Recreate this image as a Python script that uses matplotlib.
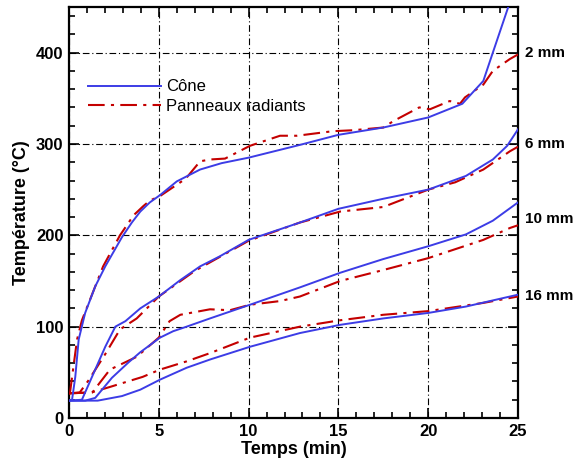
import numpy as np
import matplotlib.pyplot as plt
from matplotlib.ticker import MultipleLocator
from matplotlib.transforms import blended_transform_factory

plt.rcParams['font.family'] = ['Liberation Sans', 'DejaVu Sans']

# Cone curves (blue), time in min, temperature in degC
cone_2mm_t = [0.0, 0.17, 0.35, 0.54, 0.9, 1.46, 2.02, 2.95, 3.5, 3.97, 4.5, 5.07, 6.0, 7.3, 8.5,
              10.0, 12.86, 15.0, 17.5, 20.0, 21.9, 23.07, 23.6, 24.46]
cone_2mm_T = [19, 20, 45, 86, 115, 144, 166, 198, 214, 226, 236, 244, 259, 272, 279,
              285, 299, 310, 318, 329, 344, 369, 400, 450]
cone_6mm_t = [0.0, 0.72, 1.46, 2.02, 2.58, 3.14, 3.97, 5.0, 6.2, 7.3, 8.4, 10.0, 12.86, 15.0,
              17.5, 20.0, 22.1, 23.6, 24.4, 25.0]
cone_6mm_T = [19, 20, 53, 78, 100, 106, 120, 133, 151, 166, 177, 195, 214, 229,
              240, 250, 265, 283, 298, 316]
cone_10mm_t = [0.0, 0.9, 1.46, 2.39, 3.32, 3.97, 5.07, 5.8, 6.55, 7.85, 10.08, 12.86, 15.1,
               17.5, 20.0, 22.1, 23.6, 25.0]
cone_10mm_T = [19, 19, 22, 44, 61, 72, 88, 95, 100, 109, 124, 143, 159,
               174, 188, 201, 216, 236]
cone_16mm_t = [0.0, 1.6, 2.95, 3.97, 5.07, 6.55, 7.85, 10.08, 12.86, 15.1, 17.5, 20.0,
               22.1, 25.0]
cone_16mm_T = [19, 19, 24, 31, 42, 55, 64, 78, 93, 102, 109, 115,
               122, 135]

# Radiant panel curves (red)
pan_2mm_t = [0.0, 0.05, 0.45, 0.72, 1.9, 2.84, 3.6, 4.14, 4.5, 5.07, 6.5, 7.3, 7.85, 8.69,
             10.08, 11.75, 12.7, 14.7, 15.8, 17.5, 18.06, 19.5, 20.1, 21.2, 21.77, 22.05,
             23.07, 23.6, 24.55, 25.0]
pan_2mm_T = [27, 27, 86, 107, 166, 200, 222, 232, 238, 243, 262, 281, 283, 284,
             298, 309, 309, 314, 315, 318, 325, 340, 338, 347, 344, 351,
             365, 380, 393, 398]
pan_6mm_t = [0.0, 0.6, 1.08, 2.02, 2.84, 3.77, 5.0, 7.0, 10.0, 12.86, 15.1, 17.5, 20.0,
             21.5, 23.07, 24.55, 25.0]
pan_6mm_T = [27, 28, 41, 70, 97, 109, 133, 161, 194, 214, 226, 231, 250,
             258, 272, 292, 297]
pan_10mm_t = [0.0, 1.3, 2.28, 3.77, 5.0, 5.6, 6.2, 7.85, 8.96, 10.08, 11.75, 12.86, 15.1,
              17.5, 20.0, 23.07, 24.55, 25.0]
pan_10mm_T = [27, 28, 53, 67, 88, 106, 113, 119, 118, 124, 128, 133, 150,
              162, 175, 195, 208, 211]
pan_16mm_t = [0.0, 1.26, 2.28, 4.1, 5.07, 6.55, 7.85, 10.08, 12.86, 15.1, 17.5, 20.0,
              23.07, 25.0]
pan_16mm_T = [27, 28, 34, 45, 53, 62, 71, 88, 100, 107, 113, 117,
              126, 133]

thickness_labels = ["2 mm", "6 mm", "10 mm", "16 mm"]
thickness_label_T = [400, 300, 218, 134]

blue = '#3c3ce6'
red = '#c40000'

fig = plt.figure(figsize=(5.74, 4.63), dpi=100)
ax = fig.add_axes([0.1202, 0.0972, 0.7822, 0.8878])

for t, T in [(cone_2mm_t, cone_2mm_T), (cone_6mm_t, cone_6mm_T),
             (cone_10mm_t, cone_10mm_T), (cone_16mm_t, cone_16mm_T)]:
    line_c, = ax.plot(t, T, color=blue, lw=1.4, zorder=4)
for t, T in [(pan_2mm_t, pan_2mm_T), (pan_6mm_t, pan_6mm_T),
             (pan_10mm_t, pan_10mm_T), (pan_16mm_t, pan_16mm_T)]:
    line_p, = ax.plot(t, T, color=red, lw=1.5, dashes=(8, 3, 1.5, 3), zorder=3)
line_c.set_label("Cône")
line_p.set_label("Panneaux radiants")

ax.set_xlim(0, 25)
ax.set_ylim(0, 450)
ax.xaxis.set_major_locator(MultipleLocator(5))
ax.xaxis.set_minor_locator(MultipleLocator(1))
ax.yaxis.set_major_locator(MultipleLocator(100))
ax.yaxis.set_minor_locator(MultipleLocator(20))
ax.tick_params(which='both', direction='in', top=True, right=True, width=1.2)
ax.tick_params(which='major', length=7, labelsize=12, pad=4)
ax.tick_params(which='minor', length=4)
for lab in ax.get_xticklabels() + ax.get_yticklabels():
    lab.set_fontweight('bold')
for s in ax.spines.values():
    s.set_linewidth(1.6)

ax.grid(True, which='major', color='black', lw=0.8, dashes=(6, 2.5, 1, 2.5))

ax.set_xlabel("Temps (min)", fontsize=13, fontweight='bold', labelpad=2)
ax.set_ylabel("Température (°C)", fontsize=13, fontweight='bold', labelpad=4)

trans = blended_transform_factory(ax.transAxes, ax.transData)
for lab, T in zip(thickness_labels, thickness_label_T):
    ax.text(1.015, T, lab, transform=trans, fontsize=11, fontweight='bold',
            va='center', ha='left')

ax.legend(loc='upper left', bbox_to_anchor=(0.009, 0.86), frameon=False,
          fontsize=12, handlelength=4.4, handletextpad=0.26, labelspacing=0.25)

fig.savefig("out.png", dpi=100)
